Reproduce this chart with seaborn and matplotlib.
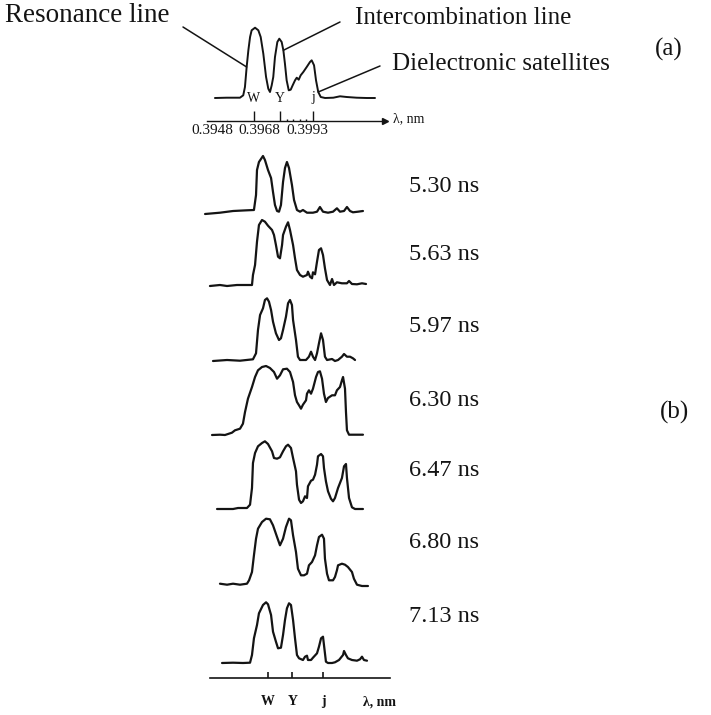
import matplotlib
matplotlib.use("Agg")
import matplotlib.pyplot as plt
import seaborn as sns

sns.set_style("white")
plt.rcParams["font.family"] = ["Liberation Serif", "DejaVu Serif"]

# ---------------------------------------------------------------- data
# Ar XVII reference lines (nm)
line_names = ["W", "Y", "j"]
line_wavelengths = [0.3949, 0.3969, 0.3994]

# (a) time-integrated spectrum
overview_tick_labels = ["0.3948", "0.3968", "0.3993"]
overview_wl = [0.39192, 0.39282, 0.39383, 0.39408, 0.39421, 0.39434, 0.39447, 0.39460,
               0.39472, 0.39498, 0.39523, 0.39541, 0.39561, 0.39582, 0.39599, 0.39612,
               0.39625, 0.39637, 0.39650, 0.39668, 0.39683, 0.39701, 0.39714, 0.39726,
               0.39739, 0.39755, 0.39770, 0.39785, 0.39803, 0.39816, 0.39831, 0.39846,
               0.39866, 0.39892, 0.39917, 0.39930, 0.39948, 0.39963, 0.39980, 0.39999,
               0.40032, 0.40095, 0.40146, 0.40197, 0.40273, 0.40350, 0.40413]
overview_int = [0, 0.3, 0.3, 2.7, 11, 31, 47.7, 61, 67.7, 70.3, 67.7, 61, 44.3, 21, 9.3, 6,
                12.7, 21, 41, 56, 59.3, 56, 47.7, 34.3, 17.7, 7.7, 8.3, 12.7, 17.7, 20.3,
                18.3, 22.7, 26, 31, 36, 37.7, 32.7, 17.7, 6, 1, 0, 0.3, 1.7, 1, 0.3, 0, 0]

# (b) time-resolved spectra
times = ["5.30 ns", "5.63 ns", "5.97 ns", "6.30 ns", "6.47 ns", "6.80 ns", "7.13 ns"]

wl_530 = [0.38975, 0.39097, 0.39204, 0.39318, 0.39375, 0.39392, 0.39400, 0.39416, 0.39449,
          0.39465, 0.39490, 0.39515, 0.39531, 0.39547, 0.39564, 0.39580, 0.39596, 0.39613,
          0.39629, 0.39645, 0.39662, 0.39686, 0.39703, 0.39727, 0.39752, 0.39776, 0.39809,
          0.39858, 0.39891, 0.39915, 0.39940, 0.39981, 0.40022, 0.40054, 0.40079, 0.40112,
          0.40136, 0.40161, 0.40185, 0.40226, 0.40267]
int_530 = [0, 1.3, 3, 3.7, 4, 19, 44, 52, 58, 54, 44, 36, 22, 9, 3, 2.3, 9, 32, 46, 52, 46,
           29, 14, 4, 2.3, 4, 1.3, 1.3, 2.3, 7, 2.3, 1.3, 2.3, 5.7, 2.3, 3, 7, 3, 1.7, 2.3, 3]

wl_563 = [0.39015, 0.39097, 0.39155, 0.39236, 0.39359, 0.39367, 0.39384, 0.39400, 0.39416,
          0.39441, 0.39465, 0.39490, 0.39523, 0.39539, 0.39555, 0.39572, 0.39588, 0.39605,
          0.39613, 0.39637, 0.39654, 0.39670, 0.39695, 0.39711, 0.39727, 0.39752, 0.39776,
          0.39809, 0.39817, 0.39834, 0.39850, 0.39858, 0.39875, 0.39891, 0.39907, 0.39924,
          0.39940, 0.39956, 0.39973, 0.39997, 0.40014, 0.40030, 0.40054, 0.40095, 0.40136,
          0.40153, 0.40177, 0.40218, 0.40259, 0.40292]
int_563 = [0, 1, 0, 1, 1, 11, 21, 44.3, 61, 66, 64.3, 60.3, 56, 51, 41, 29.3, 27.7, 41, 51,
           59.3, 63.7, 56, 41, 27.7, 16, 11, 9.3, 11, 14.3, 9.3, 7.7, 13.7, 11.7, 24.3, 36,
           37.7, 31, 17.7, 6, 1, 7, 1, 3.7, 2.7, 2.7, 5, 2, 1.7, 2.7, 2]

wl_597 = [0.39040, 0.39155, 0.39261, 0.39367, 0.39392, 0.39408, 0.39425, 0.39449, 0.39465,
          0.39482, 0.39498, 0.39515, 0.39531, 0.39555, 0.39580, 0.39596, 0.39613, 0.39637,
          0.39654, 0.39670, 0.39686, 0.39695, 0.39719, 0.39735, 0.39752, 0.39801, 0.39825,
          0.39842, 0.39858, 0.39875, 0.39891, 0.39907, 0.39924, 0.39940, 0.39956, 0.39973,
          0.40014, 0.40038, 0.40063, 0.40095, 0.40112, 0.40136, 0.40161, 0.40185, 0.40202]
int_597 = [0, 1, 0.3, 1.7, 7.7, 31, 46, 52.7, 61, 62.7, 59.3, 51, 39.3, 27.7, 21, 22.7, 31,
           44.3, 57.7, 61, 56, 41, 21, 4.3, 1, 1, 4.3, 9.3, 4.3, 1, 7.7, 17.7, 27.7, 21, 4.3,
           1, 2, 0, 1, 4.3, 7, 4.3, 4.3, 2.7, 1]

wl_630 = [0.39032, 0.39097, 0.39138, 0.39195, 0.39220, 0.39261, 0.39285, 0.39302, 0.39326,
          0.39359, 0.39384, 0.39408, 0.39441, 0.39474, 0.39506, 0.39539, 0.39564, 0.39588,
          0.39613, 0.39645, 0.39670, 0.39695, 0.39711, 0.39727, 0.39744, 0.39760, 0.39776,
          0.39801, 0.39809, 0.39825, 0.39842, 0.39858, 0.39883, 0.39899, 0.39915, 0.39932,
          0.39948, 0.39964, 0.39981, 0.40014, 0.40038, 0.40054, 0.40079, 0.40095, 0.40104,
          0.40120, 0.40128, 0.40136, 0.40153, 0.40202, 0.40267]
int_630 = [0, 0.3, 0, 2.3, 4.7, 6.3, 11.3, 23, 36.3, 48, 58, 64.7, 68, 69, 67, 63, 56.3, 59.7,
           65.7, 66.3, 63, 53, 39.7, 33, 29.7, 26.3, 30.3, 34.7, 41.3, 44.7, 41.3, 46.3, 58,
           63, 63.7, 56.3, 41.3, 33, 37, 39.7, 39.7, 44.7, 48, 54.7, 58, 46.3, 23, 4.7, 0.3,
           0.3, 0.3]

wl_647 = [0.39073, 0.39155, 0.39204, 0.39245, 0.39318, 0.39343, 0.39359, 0.39367, 0.39384,
          0.39408, 0.39441, 0.39465, 0.39490, 0.39523, 0.39539, 0.39564, 0.39588, 0.39613,
          0.39637, 0.39654, 0.39678, 0.39695, 0.39719, 0.39727, 0.39744, 0.39760, 0.39776,
          0.39793, 0.39809, 0.39817, 0.39842, 0.39858, 0.39875, 0.39891, 0.39899, 0.39924,
          0.39940, 0.39948, 0.39964, 0.39981, 0.40005, 0.40022, 0.40038, 0.40063, 0.40095,
          0.40112, 0.40128, 0.40136, 0.40153, 0.40177, 0.40202, 0.40267]
int_647 = [0, 0, 0, 1, 1, 4.3, 21, 46, 56, 62.7, 66, 67.7, 65, 57.7, 51, 50.3, 51.7, 57.7,
           62.7, 64.3, 61, 51, 37.7, 24.3, 9.3, 6, 7.7, 12.7, 11, 22.7, 28.3, 29.3, 34.3,
           44.3, 52.7, 55, 52.7, 41, 27.7, 17.7, 10.3, 7.7, 11, 21, 31, 42.7, 45, 31, 11,
           1.7, 0, 0]

wl_680 = [0.39097, 0.39155, 0.39204, 0.39261, 0.39318, 0.39335, 0.39359, 0.39375, 0.39392,
          0.39408, 0.39441, 0.39474, 0.39506, 0.39531, 0.39564, 0.39588, 0.39613, 0.39637,
          0.39662, 0.39678, 0.39695, 0.39719, 0.39735, 0.39760, 0.39785, 0.39809, 0.39825,
          0.39850, 0.39875, 0.39891, 0.39907, 0.39932, 0.39948, 0.39956, 0.39973, 0.39989,
          0.40022, 0.40038, 0.40054, 0.40063, 0.40095, 0.40120, 0.40144, 0.40177, 0.40193,
          0.40218, 0.40259, 0.40308]
int_680 = [1.3, 0.3, 1.3, 0.3, 1.3, 4.7, 13, 29.7, 46.3, 56.3, 63, 66.3, 65.7, 59.7, 48,
           39.7, 46.3, 58, 66.3, 64.7, 49.7, 33, 16.3, 9.7, 9.7, 11.3, 19.7, 23, 29.7, 39.7,
           48, 50.3, 46.3, 26.3, 11.3, 4.7, 4.7, 8, 14.7, 19.7, 21.3, 20.3, 18, 13, 6.3,
           0.3, -1, -1]

wl_713 = [0.39114, 0.39204, 0.39285, 0.39343, 0.39359, 0.39375, 0.39400, 0.39416, 0.39449,
          0.39474, 0.39490, 0.39515, 0.39531, 0.39555, 0.39572, 0.39596, 0.39613, 0.39629,
          0.39645, 0.39662, 0.39678, 0.39695, 0.39711, 0.39727, 0.39744, 0.39776, 0.39793,
          0.39809, 0.39817, 0.39842, 0.39858, 0.39891, 0.39907, 0.39924, 0.39940, 0.39948,
          0.39964, 0.39981, 0.40014, 0.40038, 0.40071, 0.40104, 0.40112, 0.40128, 0.40144,
          0.40177, 0.40218, 0.40243, 0.40259, 0.40275, 0.40300]
int_713 = [0, 0.3, 0, 0.3, 8, 24.7, 38, 49.7, 58, 60.7, 58.7, 48, 31.3, 21.3, 14.7, 15.3, 28,
           43, 54.7, 59.7, 58, 43, 24.7, 8, 4.7, 3, 6.3, 7.3, 3, 3, 5.3, 9.7, 16.3, 24.7,
           26.3, 18, 1.3, 0, 0, 0.7, 3, 8, 12, 8, 4.7, 3, 2.3, 3.7, 6.3, 3, 2.3]

spectra_wl = [wl_530, wl_563, wl_597, wl_630, wl_647, wl_680, wl_713]
spectra_int = [int_530, int_563, int_597, int_630, int_647, int_680, int_713]

# ---------------------------------------------------------------- layout
FIG_W, FIG_H = 711, 715
fig = plt.figure(figsize=(FIG_W / 100, FIG_H / 100), dpi=100)
INK = "#141414"


def add_box(left, top, right, bottom):
    """Axes placed by pixel edges measured from the top-left corner."""
    return fig.add_axes([left / FIG_W, 1 - bottom / FIG_H,
                         (right - left) / FIG_W, (bottom - top) / FIG_H])


def fig_text(x, y, s, **kw):
    fig.text(x / FIG_W, 1 - y / FIG_H, s, **kw)


def bare(ax):
    ax.set_facecolor("none")
    for side in ["top", "right", "left", "bottom"]:
        ax.spines[side].set_visible(False)
    ax.set_yticks([])
    ax.set_xticks([])


# horizontal scale of each panel: pixel position of W and pixels per nm
A_W_PX, A_DISP = 254, 13111
B_W_PX, B_DISP = 268, 12222


def px_of(wl, w_px, disp):
    return w_px + (wl - line_wavelengths[0]) * disp


# ---------------------------------------------------------------- panel (a)
a_xlim = (0.3913, 0.4049)
a_ylim = (-23, 75)
a_base = 98
ax_a = add_box(px_of(a_xlim[0], A_W_PX, A_DISP), a_base - a_ylim[1],
               px_of(a_xlim[1], A_W_PX, A_DISP), a_base - a_ylim[0])
bare(ax_a)
sns.lineplot(x=overview_wl, y=overview_int, ax=ax_a, color=INK, lw=1.4,
             sort=False, estimator=None)
ax_a.set_xlim(*a_xlim)
ax_a.set_ylim(*a_ylim)
ax_a.set_xlabel("")
ax_a.set_ylabel("")
ax_a.spines["bottom"].set_visible(True)
ax_a.spines["bottom"].set_color(INK)
ax_a.spines["bottom"].set_linewidth(1.0)
ax_a.set_xticks(line_wavelengths)
ax_a.set_xticks([0.3974, 0.3979, 0.3984, 0.3989], minor=True)
ax_a.tick_params(axis="x", which="major", bottom=True, direction="in", length=7,
                 width=1.0, color=INK, labelbottom=False)
ax_a.tick_params(axis="x", which="minor", bottom=True, direction="in", length=1.5,
                 width=1.0, color=INK)
ax_a.plot([1], [0], marker=">", ms=5, color=INK, transform=ax_a.transAxes, clip_on=False)
for name, wl in zip(line_names, line_wavelengths):
    ax_a.text(wl, 0, name, ha="center", va="center", fontsize=10, color=INK)

for lab, x in zip(overview_tick_labels, [212, 259, 307]):
    fig_text(x, 131, lab, ha="center", va="center", fontsize=11, color=INK)
fig_text(393, 119, "λ, nm", ha="left", va="center", fontsize=10, color=INK)

# labels with leader lines onto the spectrum
labels_a = [
    ("Resonance line", (5, 16), 19.5, (183, 27), 5),
    ("Intercombination line", (355, 18), 18, (340, 22), 22),
    ("Dielectronic satellites", (392, 64), 18, (380, 66), 38),
]
for text, (tx, ty), size, (lx, ly), idx in labels_a:
    fig_text(tx, ty, text, ha="left", va="center", fontsize=size, color=INK)
    ax_a.annotate("", xy=(overview_wl[idx], overview_int[idx]), xycoords="data",
                  xytext=(lx, FIG_H - ly), textcoords="figure pixels",
                  arrowprops=dict(arrowstyle="-", color=INK, lw=1.1,
                                  shrinkA=0, shrinkB=0))

fig_text(655, 49, "(a)", ha="left", va="center", fontsize=18, color=INK)

# ---------------------------------------------------------------- panel (b)
b_xlim = (0.3893, 0.4033)
b_ylim = (-5, 75)
row_base = [214, 286, 361, 435, 509, 585, 663]
label_y = [187, 255, 327, 400, 470, 542, 616]

for wl, inten, base, lab, ly in zip(spectra_wl, spectra_int, row_base, times, label_y):
    ax = add_box(px_of(b_xlim[0], B_W_PX, B_DISP), base - b_ylim[1],
                 px_of(b_xlim[1], B_W_PX, B_DISP), base - b_ylim[0])
    bare(ax)
    sns.lineplot(x=wl, y=inten, ax=ax, color=INK, lw=1.6, sort=False, estimator=None)
    ax.set_xlim(*b_xlim)
    ax.set_ylim(*b_ylim)
    ax.set_xlabel("")
    ax.set_ylabel("")
    fig_text(409, ly, lab, ha="left", va="center", fontsize=17.5, color=INK)

# common wavelength axis under the time series
axis_xlim = (0.39015, 0.40488)
ax_axis = add_box(px_of(axis_xlim[0], B_W_PX, B_DISP), 660,
                  px_of(axis_xlim[1], B_W_PX, B_DISP), 678)
bare(ax_axis)
ax_axis.set_xlim(*axis_xlim)
ax_axis.spines["bottom"].set_visible(True)
ax_axis.spines["bottom"].set_color(INK)
ax_axis.spines["bottom"].set_linewidth(1.2)
ax_axis.set_xticks(line_wavelengths)
ax_axis.set_xticklabels(line_names, fontsize=10, fontweight="bold", color=INK)
ax_axis.tick_params(axis="x", bottom=True, direction="in", length=4.5, width=1.2,
                    color=INK, pad=12)
fig_text(363, 702, "λ, nm", ha="left", va="center", fontsize=10, fontweight="bold",
         color=INK)

fig_text(660, 412, "(b)", ha="left", va="center", fontsize=18, color=INK)

fig.savefig("out.png", dpi=100)
